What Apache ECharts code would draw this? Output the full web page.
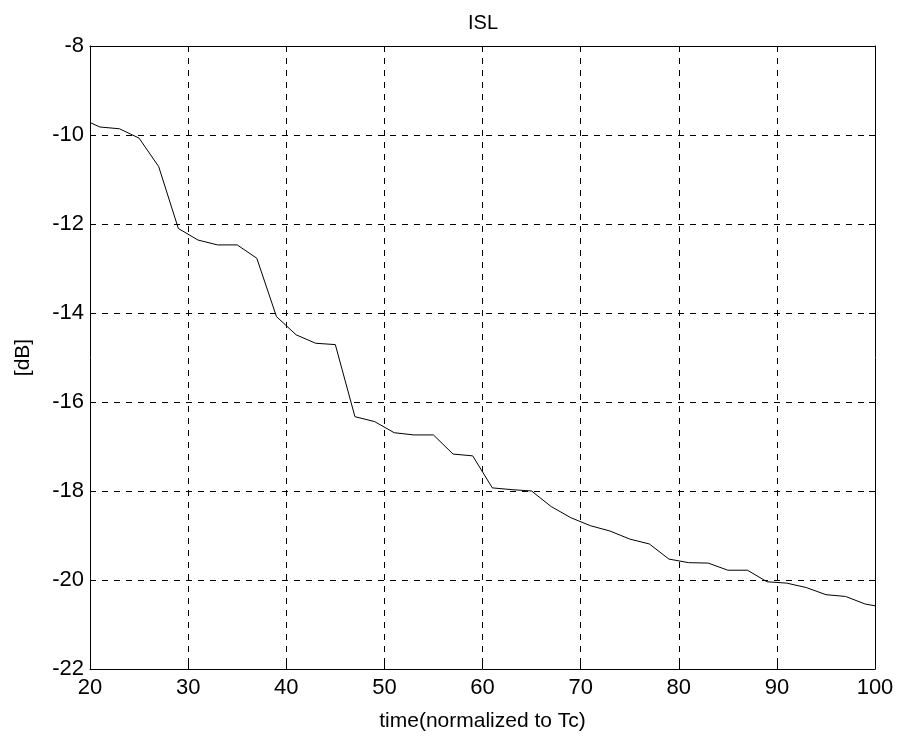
<!DOCTYPE html>
<html>
<head>
<meta charset="utf-8">
<script src="https://cdn.jsdelivr.net/npm/echarts@6/dist/echarts.min.js"></script>
<style>
  html, body { margin: 0; padding: 0; background: #fff; }
  #chart { width: 898px; height: 738px; }
</style>
</head>
<body>
<div id="chart"></div>
<script>
// data
var timeValues = [20, 21, 23, 25, 27, 29, 31, 33, 35, 37, 39, 41, 43, 45, 47, 49, 51, 53, 55, 57, 59,
    61, 63, 65, 67, 69, 71, 73, 75, 77, 79, 81, 83, 85, 87, 89, 91, 93, 95, 97, 99, 100];
var islValues = [-9.72, -9.82, -9.86, -10.07, -10.71, -12.10, -12.36, -12.47, -12.47, -12.77, -14.08,
    -14.49, -14.68, -14.71, -16.33, -16.44, -16.69, -16.74, -16.74, -17.17, -17.21,
    -17.93, -17.97, -18.0, -18.35, -18.60, -18.78, -18.90, -19.08, -19.19, -19.53,
    -19.61, -19.62, -19.78, -19.78, -20.04, -20.07, -20.17, -20.33, -20.37, -20.54, -20.58];

var font = 'Liberation Sans, Arial, sans-serif';

var chart = echarts.init(document.getElementById('chart'));

var pts = [];
for (var i = 0; i < timeValues.length; i++) {
    pts.push([timeValues[i], islValues[i]]);
}

var gridDash = { color: '#000', type: [6, 6], width: 1 };

var option = {
    backgroundColor: '#fff',
    animation: false,
    title: {
        text: 'ISL',
        left: 478,
        textAlign: 'center',
        top: 8,
        textStyle: { fontFamily: font, fontSize: 20, fontWeight: 'normal', color: '#000' }
    },
    grid: { left: 90, right: 23, top: 46, bottom: 69, show: false },
    xAxis: [{
        type: 'value', min: 20, max: 100, interval: 10,
        name: 'time(normalized to Tc)', nameLocation: 'middle', nameGap: 42,
        nameTextStyle: { fontFamily: font, fontSize: 21, color: '#000' },
        axisLine: { show: true, onZero: false, lineStyle: { color: '#000', width: 1 } },
        axisTick: { show: true, inside: true, length: 6, lineStyle: { color: '#000' } },
        axisLabel: { fontFamily: font, fontSize: 22, color: '#000', margin: 8 },
        splitLine: { show: true, lineStyle: gridDash }
    }, {
        type: 'value', min: 20, max: 100, interval: 10, position: 'top',
        axisLine: { show: true, onZero: false, lineStyle: { color: '#000', width: 1 } },
        axisTick: { show: true, inside: true, length: 6, lineStyle: { color: '#000' } },
        axisLabel: { show: false },
        splitLine: { show: false }
    }],
    yAxis: [{
        type: 'value', min: -22, max: -8, interval: 2,
        name: '[dB]', nameLocation: 'middle', nameGap: 56, nameRotate: 90,
        nameTextStyle: { fontFamily: font, fontSize: 21, color: '#000' },
        axisLine: { show: true, onZero: false, lineStyle: { color: '#000', width: 1 } },
        axisTick: { show: true, inside: true, length: 6, lineStyle: { color: '#000' } },
        axisLabel: { fontFamily: font, fontSize: 22, color: '#000', margin: 6 },
        splitLine: { show: true, lineStyle: gridDash }
    }, {
        type: 'value', min: -22, max: -8, interval: 2, position: 'right',
        axisLine: { show: true, onZero: false, lineStyle: { color: '#000', width: 1 } },
        axisTick: { show: true, inside: true, length: 6, lineStyle: { color: '#000' } },
        axisLabel: { show: false },
        splitLine: { show: false }
    }],
    series: [{
        name: 'ISL',
        type: 'line',
        data: pts,
        showSymbol: false,
        lineStyle: { color: '#000', width: 1 }
    }]
};

chart.setOption(option);
</script>
</body>
</html>
